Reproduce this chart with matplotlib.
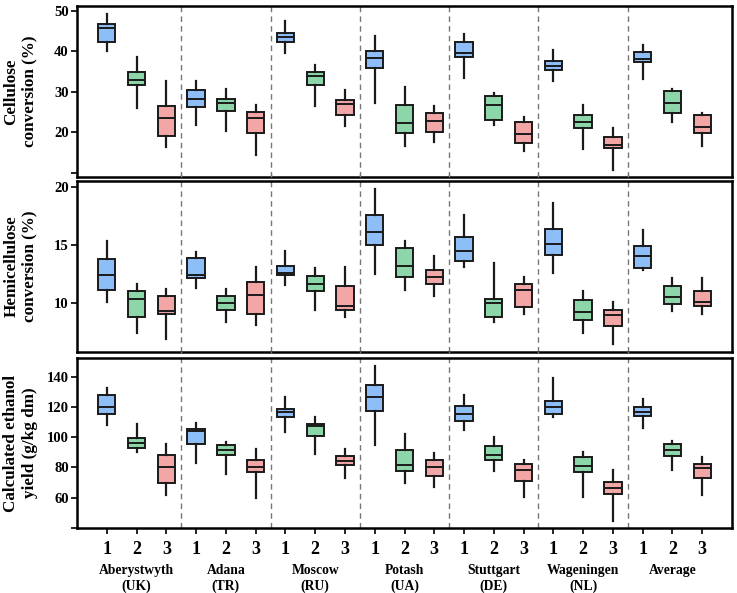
import numpy as np
import matplotlib
matplotlib.use('Agg')
import matplotlib.pyplot as plt

plt.rcParams['font.family'] = ['Liberation Serif', 'DejaVu Serif']
plt.rcParams['font.weight'] = 'bold'

# sites and cultivar groups
sites = ["Aberystwyth\n(UK)", "Adana\n(TR)", "Moscow\n(RU)", "Potash\n(UA)",
         "Stuttgart\n(DE)", "Wageningen\n(NL)", "Average"]
groups = ["1", "2", "3"]

# cellulose conversion (%), 7 sites x 3 groups
cel_lo = [40.2, 26.0, 16.4, 21.8, 20.4, 14.4, 39.6, 26.6, 21.5, 27.2, 16.7, 17.6,
          33.4, 21.9, 15.3, 32.7, 15.9, 10.8, 33.2, 22.6, 16.7]
cel_q1 = [42.4, 31.8, 19.0, 26.2, 25.4, 19.8, 42.2, 31.8, 24.4, 35.8, 19.8, 20.2,
          38.6, 23.0, 17.5, 35.4, 21.0, 16.2, 37.4, 24.8, 19.8]
cel_med = [45.8, 33.0, 23.5, 28.3, 27.2, 23.5, 43.5, 34.0, 27.0, 38.3, 22.3, 22.7,
           39.6, 26.8, 19.5, 36.5, 22.6, 16.8, 38.1, 27.2, 21.4]
cel_q3 = [46.8, 34.8, 26.6, 30.5, 28.2, 25.1, 44.5, 35.0, 28.0, 40.1, 26.8, 24.8,
          42.2, 28.9, 22.5, 37.7, 24.4, 18.8, 39.8, 30.1, 24.4]
cel_hi = [49.2, 38.5, 32.8, 32.7, 30.7, 26.7, 47.4, 36.7, 30.4, 43.9, 31.3, 26.6,
          44.2, 29.7, 23.8, 40.4, 26.8, 21.2, 41.5, 30.7, 24.9]

# hemicellulose conversion (%)
hem_lo = [10.1, 7.4, 6.9, 11.3, 8.3, 8.1, 11.5, 9.4, 8.8, 12.5, 11.1, 10.6,
          13.1, 8.3, 9.0, 12.6, 7.4, 6.4, 12.8, 9.3, 9.0]
hem_q1 = [11.1, 8.8, 9.0, 12.1, 9.4, 9.0, 12.4, 11.0, 9.4, 15.0, 12.2, 11.6,
          13.6, 8.8, 9.6, 14.1, 8.5, 8.0, 13.0, 9.9, 9.7]
hem_med = [12.4, 10.3, 9.3, 12.4, 10.0, 10.7, 12.6, 11.6, 9.7, 16.1, 13.2, 12.2,
           14.5, 10.0, 11.1, 15.1, 9.2, 8.9, 14.0, 10.5, 10.1]
hem_q3 = [13.8, 11.0, 10.6, 13.9, 10.6, 11.8, 13.2, 12.3, 11.4, 17.6, 14.7, 12.8,
          15.7, 10.3, 11.6, 16.4, 10.2, 9.4, 14.9, 11.4, 11.0]
hem_hi = [15.3, 11.6, 11.2, 14.4, 11.2, 13.1, 14.5, 13.0, 13.1, 19.8, 15.3, 14.0,
          17.6, 13.4, 12.2, 18.6, 11.0, 10.1, 16.3, 12.1, 12.1]

# calculated ethanol yield (g/kg dm)
eth_lo = [107.9, 90.1, 62.0, 82.9, 75.4, 59.8, 103.1, 89.2, 73.0, 94.9, 69.7, 66.8,
          104.8, 77.8, 60.4, 113.6, 60.2, 44.8, 105.9, 78.0, 61.5]
eth_q1 = [115.2, 92.7, 69.9, 95.8, 88.4, 77.1, 113.6, 100.9, 81.5, 117.6, 77.8, 74.5,
          110.5, 84.6, 71.2, 115.2, 77.1, 62.6, 113.8, 87.5, 73.0]
eth_med = [119.8, 96.3, 80.4, 104.2, 91.6, 80.4, 116.7, 107.3, 84.0, 126.4, 81.3, 80.0,
           115.4, 88.4, 78.0, 120.0, 80.7, 66.2, 116.7, 91.2, 79.6]
eth_q3 = [127.7, 99.6, 88.1, 105.1, 94.5, 84.8, 118.9, 109.0, 87.5, 134.7, 91.4, 84.6,
          120.9, 94.1, 82.2, 124.2, 87.0, 70.3, 119.8, 95.6, 82.6]
eth_hi = [132.3, 108.8, 95.8, 109.2, 96.5, 92.5, 126.4, 113.4, 92.5, 147.3, 102.0, 89.7,
          127.9, 99.8, 84.6, 139.3, 90.5, 78.5, 125.3, 97.4, 86.6]

colors = ["#8dbef8", "#8dd6aa", "#f2a6a6"]

panels = [
    dict(lo=cel_lo, q1=cel_q1, med=cel_med, q3=cel_q3, hi=cel_hi,
         label="Cellulose\nconversion (%)", ylim=(9, 51.2),
         ticks=[10, 20, 30, 40, 50], hide=10),
    dict(lo=hem_lo, q1=hem_q1, med=hem_med, q3=hem_q3, hi=hem_hi,
         label="Hemicellulose\nconversion (%)", ylim=(5.75, 20.5),
         ticks=[10, 15, 20], hide=None),
    dict(lo=eth_lo, q1=eth_q1, med=eth_med, q3=eth_q3, hi=eth_hi,
         label="Calculated ethanol\nyield (g/kg dm)", ylim=(40, 152.3),
         ticks=[40, 60, 80, 100, 120, 140], hide=40),
]
rects = [[0.1045, 0.7015, 0.8887, 0.2884],
         [0.1045, 0.4064, 0.8887, 0.2884],
         [0.1045, 0.1096, 0.8887, 0.2867]]

fig = plt.figure(figsize=(7.37, 5.93), dpi=100)
n = len(sites) * len(groups)
pos = np.arange(1, n + 1)

for i, p in enumerate(panels):
    ax = fig.add_axes(rects[i])
    stats = []
    for k in range(n):
        stats.append(dict(whislo=p['lo'][k], q1=p['q1'][k], med=p['med'][k],
                          q3=p['q3'][k], whishi=p['hi'][k], fliers=[]))
    bp = ax.bxp(stats, positions=pos, widths=0.58, patch_artist=True,
                showcaps=False, showfliers=False,
                boxprops=dict(linewidth=1.4, edgecolor="#1a1a1a"),
                whiskerprops=dict(linewidth=1.6, color="#1a1a1a"),
                medianprops=dict(linewidth=1.4, color="#1a1a1a"))
    for k, box in enumerate(bp['boxes']):
        box.set_facecolor(colors[k % 3])
    for s in range(1, len(sites)):
        ax.axvline(s * 3 + 0.5, color="#777777", linestyle=(0, (4, 3)),
                   linewidth=1.0, ymin=0, ymax=1.04 if i > 0 else 1,
                   clip_on=False, zorder=0)
    ax.set_xlim(0, n + 1)
    ax.set_ylim(*p['ylim'])
    ax.set_yticks(p['ticks'])
    ax.set_yticklabels(["" if t == p['hide'] else str(t) for t in p['ticks']])
    ax.tick_params(axis='y', direction='out', length=4, width=1.2,
                   labelsize=10.5, pad=2)
    for sp in ax.spines.values():
        sp.set_linewidth(1.8)
    lab = ax.set_ylabel(p['label'], fontsize=12.3, fontweight='bold',
                        linespacing=1.2)
    lab.set_verticalalignment('center')
    ax.yaxis.set_label_coords(-0.086, 0.5)
    if i < 2:
        ax.set_xticks([])
    else:
        ax.set_xticks(pos)
        ax.set_xticklabels(groups * len(sites), fontsize=13, fontweight='bold')
        ax.tick_params(axis='x', direction='out', length=4, width=1.2, pad=5)
        for s, name in enumerate(sites):
            ax.text(s * 3 + 2, -0.21, name, transform=ax.get_xaxis_transform(),
                    ha='center', va='top', fontsize=9.8, fontweight='bold',
                    linespacing=1.3)

fig.savefig("out.png", dpi=100)
